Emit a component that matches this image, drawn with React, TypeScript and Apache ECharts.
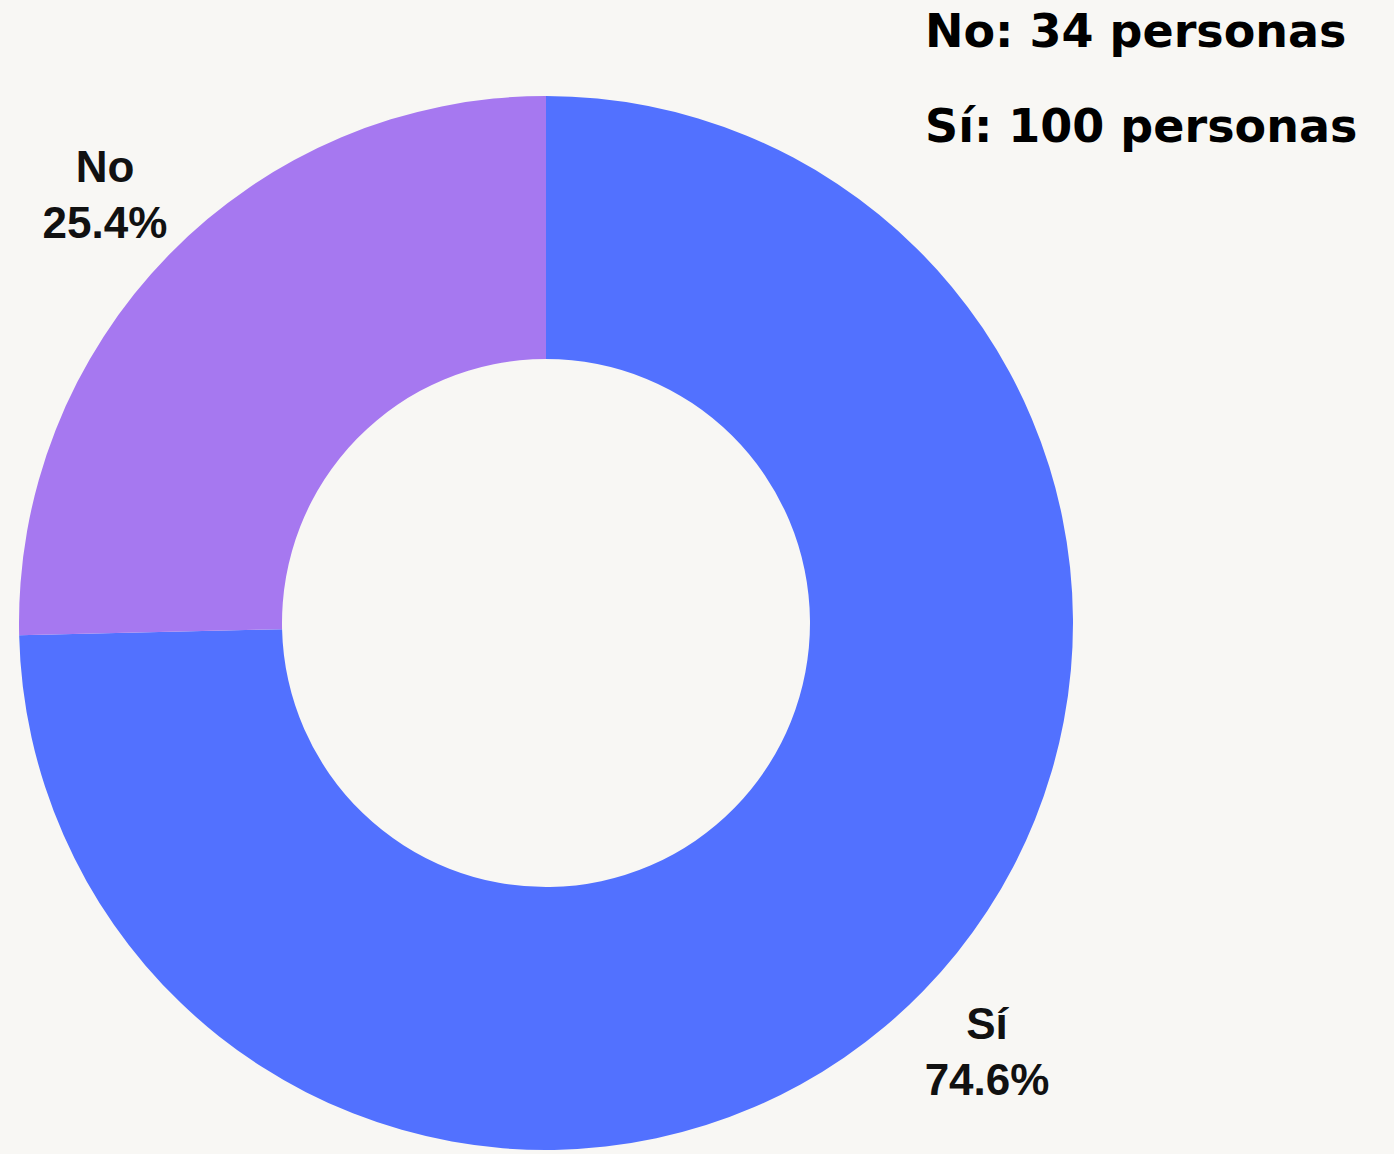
import React, { useEffect, useRef } from "react";
import * as echarts from "echarts";

const categories = ["Sí", "No"];
const counts = [100, 34];
const colors = ["#5271ff", "#a678f0"];
const unit = "personas";

export default function App() {
  const ref = useRef<HTMLDivElement>(null);
  useEffect(() => {
    if (!ref.current) return;
    const chart = echarts.init(ref.current, undefined, { renderer: "svg" });
    const summary = [1, 0].map((i) => `${categories[i]}: ${counts[i]} ${unit}`).join("\n");
    chart.setOption({
      animation: false,
      backgroundColor: "#f8f7f4",
      title: {
        text: summary,
        left: 920,
        top: -22,
        textStyle: {
          fontFamily: "DejaVu Sans",
          fontWeight: "bold",
          fontSize: 46,
          lineHeight: 95,
          color: "#000",
        },
      },
      series: [
        {
          type: "pie",
          left: 0,
          top: 0,
          width: 1092,
          height: 1154,
          center: [546, 623],
          radius: [264, 527],
          startAngle: 90,
          clockwise: true,
          avoidLabelOverlap: false,
          data: categories.map((c, i) => ({ name: c, value: counts[i], itemStyle: { color: colors[i] } })),
          label: {
            show: true,
            position: "outside",
            alignTo: "edge",
            edgeDistance: 39,
            formatter: (p: any) => `{a|${p.name}}\n{a|${p.percent.toFixed(1)}%}`,
            rich: {
              a: {
                width: 132,
                align: "center",
                fontFamily: "Liberation Sans",
                fontWeight: "bold",
                fontSize: 44,
                lineHeight: 56,
                color: "#111",
              },
            },
          },
          labelLine: { show: false, length: 86, length2: 0 },
        },
      ],
    });
    return () => chart.dispose();
  }, []);
  return <div ref={ref} style={{ position: "fixed", left: 0, top: 0, width: 1394, height: 1154 }} />;
}
